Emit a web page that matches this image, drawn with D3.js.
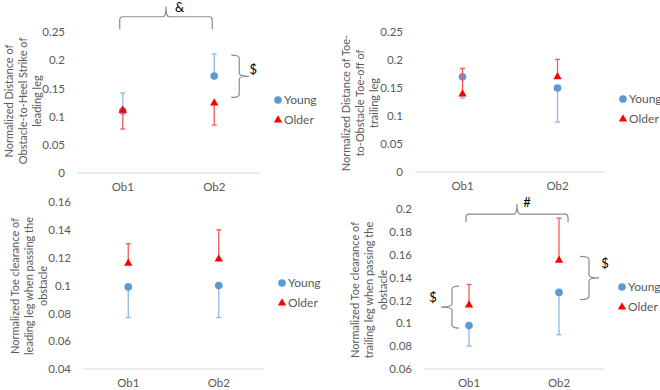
<!DOCTYPE html>
<html>
<head>
<meta charset="utf-8">
<script src="https://cdn.jsdelivr.net/npm/d3@7"></script>
<style>
  body { margin: 0; background: #fff; }
  svg { font-family: Lato, "Open Sans", sans-serif; }
</style>
</head>
<body>
<svg id="chart" width="660" height="390"></svg>
<script>
const categories = ["Ob1", "Ob2"];
const seriesNames = ["Young", "Older"];

// panel A: obstacle-to-heel strike, leading leg
const youngHeel = [0.110, 0.172];
const youngHeelErr = [0.032, 0.039];
const olderHeel = [0.111, 0.124];
const olderHeelErr = [-0.033, -0.039];

// panel B: toe-off to obstacle, trailing leg
const youngToeOff = [0.170, 0.150];
const youngToeOffErr = [-0.038, -0.061];
const olderToeOff = [0.139, 0.170];
const olderToeOffErr = [0.046, 0.031];

// panel C: toe clearance, leading leg
const youngLeadClear = [0.099, 0.100];
const youngLeadClearErr = [-0.022, -0.023];
const olderLeadClear = [0.116, 0.119];
const olderLeadClearErr = [0.014, 0.021];

// panel D: toe clearance, trailing leg
const youngTrailClear = [0.098, 0.127];
const youngTrailClearErr = [-0.018, -0.037];
const olderTrailClear = [0.116, 0.155];
const olderTrailClearErr = [0.018, 0.037];

const ticksAB = [0, 0.05, 0.1, 0.15, 0.2, 0.25];
const ticksC = [0.04, 0.06, 0.08, 0.1, 0.12, 0.14, 0.16];
const ticksD = [0.06, 0.08, 0.1, 0.12, 0.14, 0.16, 0.18, 0.2];

const titleA = ["Normalized Distance of", "Obstacle-to-Heel Strike of", "leading leg"];
const titleB = ["Normalized Distance of Toe-", "to-Obstacle Toe-off of", "trailing leg"];
const titleC = ["Normalized Toe clearance of", "leading leg when passing the", "obstacle"];
const titleD = ["Normalized Toe clearance of", "trailing leg when passing the", "obstacle"];

const blue = "#5b9bd5", blueErr = "#8db9e2";
const red = "#ff0000", redErr = "#f25a5a";
const textGray = "#595959", braceGray = "#8c8c8c";

const svg = d3.select("#chart");

const panels = [
  { x0: 77, x1: 260, yb: 173, yt: 32, domain: [0, 0.25], ticks: ticksAB, title: titleA, tx: 9, ty: 101,
    young: youngHeel, youngErr: youngHeelErr, older: olderHeel, olderErr: olderHeelErr, legY: 100 },
  { x0: 415, x1: 605, yb: 172, yt: 32, domain: [0, 0.25], ticks: ticksAB, title: titleB, tx: 346, ty: 103,
    young: youngToeOff, youngErr: youngToeOffErr, older: olderToeOff, olderErr: olderToeOffErr, legY: 99 },
  { x0: 83, x1: 264, yb: 369, yt: 202, domain: [0.04, 0.16], ticks: ticksC, title: titleC, tx: 15, ty: 286,
    young: youngLeadClear, youngErr: youngLeadClearErr, older: olderLeadClear, olderErr: olderLeadClearErr, legY: 283 },
  { x0: 424, x1: 604, yb: 369, yt: 209, domain: [0.06, 0.2], ticks: ticksD, title: titleD, tx: 355, ty: 290,
    young: youngTrailClear, youngErr: youngTrailClearErr, older: olderTrailClear, olderErr: olderTrailClearErr, legY: 287 }
];

const circle = d3.symbol(d3.symbolCircle, 46);
const triangle = d3.symbol(d3.symbolTriangle, 30);

panels.forEach(p => {
  const g = svg.append("g");
  p.xs = d3.scaleBand().domain(categories).range([p.x0, p.x1]);
  p.ys = d3.scaleLinear().domain(p.domain).range([p.yb, p.yt]);

  // y axis labels (no line)
  const ya = g.append("g").attr("transform", `translate(${p.x0},0)`)
    .call(d3.axisLeft(p.ys).tickValues(p.ticks).tickSize(0).tickPadding(12)
      .tickFormat(d => String(+d.toFixed(3))));
  ya.select(".domain").remove();
  ya.selectAll("text").attr("fill", textGray).style("font-size", "11.5px").style("font-family", "Lato");

  // x axis
  const xa = g.append("g").attr("transform", `translate(0,${p.yb})`)
    .call(d3.axisBottom(p.xs).tickSize(0).tickPadding(10));
  xa.select(".domain").attr("stroke", "#d9d9d9").attr("d", `M${p.x0},0H${p.x1}`);
  xa.selectAll("text").attr("fill", textGray).style("font-size", "11.5px").style("font-family", "Lato");

  // title
  const t = g.append("text")
    .attr("transform", `translate(${p.tx},${p.ty}) rotate(-90)`)
    .attr("text-anchor", "middle").attr("fill", textGray)
    .style("font-size", "11px");
  p.title.forEach((line, i) => {
    t.append("tspan").attr("x", 0).attr("y", i * 14).attr("dy", "0.35em").text(line);
  });

  const cx = c => p.xs(c) + p.xs.bandwidth() / 2;
  const groups = [
    { vals: p.young, errs: p.youngErr, col: blue, ecol: blueErr, sym: circle },
    { vals: p.older, errs: p.olderErr, col: red, ecol: redErr, sym: triangle }
  ];
  groups.forEach(s => {
    const rows = categories.map((c, i) => ({ c, v: s.vals[i], e: s.vals[i] + s.errs[i] }));
    g.selectAll(null).data(rows).join("line")
      .attr("x1", d => cx(d.c)).attr("x2", d => cx(d.c))
      .attr("y1", d => p.ys(d.v)).attr("y2", d => p.ys(d.e))
      .attr("stroke", s.ecol).attr("stroke-width", 1.3);
    g.selectAll(null).data(rows).join("line")
      .attr("x1", d => cx(d.c) - 2.5).attr("x2", d => cx(d.c) + 2.5)
      .attr("y1", d => p.ys(d.e)).attr("y2", d => p.ys(d.e))
      .attr("stroke", s.ecol).attr("stroke-width", 1.3);
    g.selectAll(null).data(rows).join("path")
      .attr("transform", d => `translate(${cx(d.c)},${p.ys(d.v)})`)
      .attr("d", s.sym).attr("fill", s.col);
  });

  // legend
  const lx = p.x1 + 18;
  seriesNames.forEach((name, i) => {
    const ly = p.legY + i * 20;
    g.append("path").attr("transform", `translate(${lx},${ly})`)
      .attr("d", i === 0 ? circle : triangle).attr("fill", i === 0 ? blue : red);
    g.append("text").attr("x", lx + 6).attr("y", ly).attr("dy", "0.35em")
      .attr("fill", textGray).style("font-size", "12px").text(name);
  });
});

// significance braces
function vBrace(g, x, ya, yb, dir, ends, tipLen) {
  // vertical curly brace; dir = +1 tip to the right, -1 tip to the left
  const ym = (ya + yb) / 2, r = 3;
  const xe = x - dir * ends, xt = x + dir * tipLen;
  const d = `M${xe},${ya} Q${x},${ya} ${x},${ya + r} L${x},${ym - r} Q${x},${ym} ${xt},${ym}` +
    ` Q${x},${ym} ${x},${ym + r} L${x},${yb - r} Q${x},${yb} ${xe},${yb}`;
  g.append("path").attr("d", d).attr("fill", "none").attr("stroke", braceGray).attr("stroke-width", 1.2);
}
function hBrace(g, xa, xb, yEnd, yLine, yTip) {
  const xm = (xa + xb) / 2, r = 3;
  const d = `M${xa},${yEnd} L${xa},${yLine + r} Q${xa},${yLine} ${xa + r},${yLine} L${xm - 3},${yLine}` +
    ` Q${xm},${yLine} ${xm},${yTip} Q${xm},${yLine} ${xm + 3},${yLine} L${xb - r},${yLine}` +
    ` Q${xb},${yLine} ${xb},${yLine + r} L${xb},${yEnd}`;
  g.append("path").attr("d", d).attr("fill", "none").attr("stroke", braceGray).attr("stroke-width", 1.2);
}
function mark(g, x, y, s) {
  g.append("text").attr("x", x).attr("y", y).attr("dy", "0.35em").attr("text-anchor", "middle")
    .attr("fill", "#000").style("font-size", "13px").text(s);
}

const ann = svg.append("g");
{
  const p = panels[0], cx = c => p.xs(c) + p.xs.bandwidth() / 2;
  hBrace(ann, cx("Ob1") - 3, cx("Ob2") - 2, p.ys(0.255), p.ys(0.277), p.ys(0.295));
  mark(ann, cx("Ob1") + 57, p.ys(0.293), "&");
  vBrace(ann, cx("Ob2") + 25, p.ys(0.209), p.ys(0.134), 1, 8, 10);
  mark(ann, cx("Ob2") + 39, p.ys(0.183), "$");
}
{
  const p = panels[3], cx = c => p.xs(c) + p.xs.bandwidth() / 2;
  hBrace(ann, cx("Ob1") - 3, cx("Ob2") + 9, p.ys(0.1885), p.ys(0.1955), p.ys(0.2045));
  mark(ann, cx("Ob2") - 32, p.ys(0.206), "#");
  vBrace(ann, cx("Ob1") - 17, p.ys(0.1325), p.ys(0.0958), -1, 7, 11);
  mark(ann, cx("Ob1") - 36, p.ys(0.1225), "$");
  vBrace(ann, cx("Ob2") + 30, p.ys(0.1585), p.ys(0.1208), 1, 9, 10);
  mark(ann, cx("Ob2") + 46, p.ys(0.1525), "$");
}
</script>
</body>
</html>
